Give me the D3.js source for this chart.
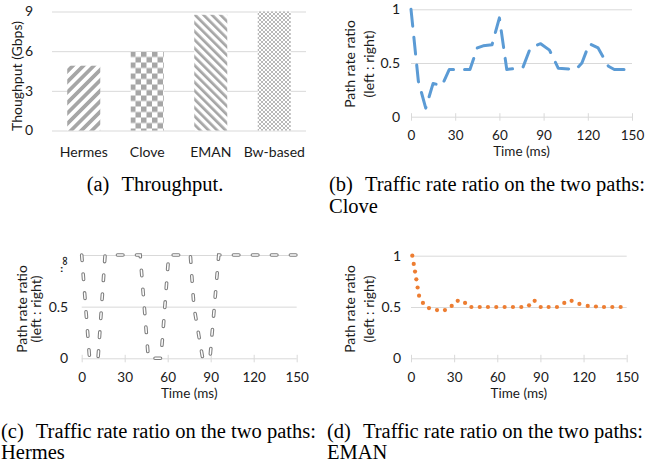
<!DOCTYPE html>
<html>
<head>
<meta charset="utf-8">
<script src="https://cdn.jsdelivr.net/npm/d3@7"></script>
<style>
  body { margin: 0; background: #fff; }
  text { font-family: Lato, "Open Sans", sans-serif; fill: #1a1a1a; }
  text.cap { font-family: "Liberation Serif", "Times New Roman", serif; fill: #000; font-size: 20.5px; }
</style>
</head>
<body>
<script>
// (a) throughput bars
const categories = ['Hermes', 'Clove', 'EMAN', 'Bw-based'];
const throughput = [4.9, 5.95, 8.75, 9.0];
const throughputTicks = [0, 3, 6, 9];

// shared ticks for the ratio panels
const timeTicks = [0, 30, 60, 90, 120, 150];
const ratioTicks = [0, 0.5, 1];
const ratioLabels = ['0', '0.5', '1'];
const hermesLabels = ['0', '0.5', ''];

// (b) Clove
const cloveTime = [0, 5, 10, 15, 21, 26, 40, 45, 49, 55, 60, 65, 72, 76, 81, 88, 94, 100, 112, 116, 121, 127, 134, 138, 145, 150];
const cloveRatio = [1.0, 0.33, 0.08, 0.31, 0.29, 0.44, 0.44, 0.64, 0.66, 0.67, 0.92, 0.44, 0.45, 0.46, 0.64, 0.68, 0.62, 0.45, 0.44, 0.5, 0.68, 0.64, 0.47, 0.44, 0.44, 0.5];

// (c) Hermes (top line = infinity)
const hermesTime = [0, 5.5, 11.4, 16.3, 40.8, 46.5, 55.3, 60.7, 75.8, 78.3, 84.4, 89.5, 95.6, 150];
const hermesRatio = [1, 0, 0, 1, 1, 0, 0, 1, 1, 0.5, 0, 0, 1, 1];

// (d) EMAN
const emanTime = [0.9, 1.9, 2.8, 3.7, 4.6, 5.6, 8.3, 12.5, 18.1, 23.6, 28.3, 32.5, 37.6, 42, 47.8, 53.5, 59.3, 65.1, 70.9, 76.7, 82.1, 86, 90.2, 95.7, 101.5, 106.6, 111.7, 117.1, 122.9, 128.6, 134.2, 140, 145.8];
const emanRatio = [1.0, 0.92, 0.845, 0.77, 0.69, 0.61, 0.54, 0.49, 0.47, 0.47, 0.51, 0.56, 0.54, 0.5, 0.5, 0.5, 0.5, 0.5, 0.5, 0.5, 0.516, 0.56, 0.5, 0.5, 0.5, 0.54, 0.56, 0.53, 0.51, 0.505, 0.5, 0.5, 0.5];

const gridColor = '#d9d9d9';
const grey = '#a6a6a6';

const svg = d3.select('body').append('svg')
  .attr('width', 652)
  .attr('height', 468);

const defs = svg.append('defs');

// diagonal stripes
function stripes(id, size, thick, angle) {
  const p = defs.append('pattern')
    .attr('id', id)
    .attr('patternUnits', 'userSpaceOnUse')
    .attr('width', size)
    .attr('height', size)
    .attr('patternTransform', `rotate(${angle})`);
  p.append('rect').attr('width', size).attr('height', size).attr('fill', '#fff');
  p.append('rect').attr('width', thick).attr('height', size).attr('fill', grey);
}
stripes('hermesFill', 7.4, 3.7, 45);
stripes('emanFill', 6, 2.7, -45);

// checkerboard
const ck = defs.append('pattern')
  .attr('id', 'cloveFill')
  .attr('patternUnits', 'userSpaceOnUse')
  .attr('x', 130).attr('y', 51.5)
  .attr('width', 11).attr('height', 11);
ck.append('rect').attr('width', 11).attr('height', 11).attr('fill', '#fff');
ck.append('rect').attr('width', 5.5).attr('height', 5.5).attr('fill', grey);
ck.append('rect').attr('x', 5.5).attr('y', 5.5).attr('width', 5.5).attr('height', 5.5).attr('fill', grey);

// fine cross hatch
const ch = defs.append('pattern')
  .attr('id', 'bwFill')
  .attr('patternUnits', 'userSpaceOnUse')
  .attr('width', 4).attr('height', 4);
ch.append('rect').attr('width', 4).attr('height', 4).attr('fill', '#fff');
ch.append('path').attr('d', 'M0,0L4,4M4,0L0,4').attr('stroke', '#b0b0b0').attr('stroke-width', 0.9);

const barFills = ['url(#hermesFill)', 'url(#cloveFill)', 'url(#emanFill)', 'url(#bwFill)'];

// ---------- (a) ----------
const xa = d3.scaleBand().domain(categories).range([52, 306]).paddingInner(0.48).paddingOuter(0.24);
const ya = d3.scaleLinear().domain([0, 9]).range([130.5, 11.5]);

svg.append('g')
  .attr('transform', 'translate(52,0)')
  .call(d3.axisLeft(ya).tickValues(throughputTicks).tickSize(-254).tickPadding(19))
  .attr('font-size', 14)
  .call(a => a.select('.domain').remove())
  .call(a => a.selectAll('line').attr('stroke', gridColor));

svg.append('g')
  .selectAll('rect')
  .data(throughput)
  .join('rect')
  .attr('x', (d, i) => xa(categories[i]))
  .attr('y', d => ya(d))
  .attr('width', xa.bandwidth())
  .attr('height', d => ya(0) - ya(d))
  .attr('fill', (d, i) => barFills[i]);

svg.append('g')
  .attr('transform', `translate(0,${ya(0)})`)
  .call(d3.axisBottom(xa).tickSize(0).tickPadding(16.5))
  .attr('font-size', 14)
  .call(a => a.select('.domain').remove());

svg.append('text')
  .attr('transform', 'translate(22,76) rotate(-90)')
  .attr('text-anchor', 'middle')
  .attr('font-size', 14)
  .text('Thoughput (Gbps)');

// ---------- ratio panels ----------
function ratioPanel(o) {
  const x = d3.scaleLinear().domain([0, 150]).range([o.left, o.right]);
  const y = d3.scaleLinear().domain([0, 1]).range([o.bottom, o.top]);

  svg.append('g')
    .attr('transform', `translate(${o.left},0)`)
    .call(d3.axisLeft(y).tickValues(ratioTicks).tickSize(-(o.right - o.left)).tickPadding(o.pad)
      .tickFormat((d, i) => o.labels[i]))
    .attr('font-size', 14)
    .call(a => a.select('.domain').remove())
    .call(a => a.selectAll('line').attr('stroke', gridColor));

  svg.append('g')
    .attr('transform', `translate(0,${o.bottom})`)
    .call(d3.axisBottom(x).tickValues(timeTicks).tickSize(4).tickPadding(9.8))
    .attr('font-size', 13.5)
    .call(a => a.select('.domain').remove())
    .call(a => a.selectAll('line').attr('stroke', gridColor).attr('y1', -3.5));

  svg.append('text')
    .attr('x', (o.left + o.right) / 2)
    .attr('y', o.bottom + 39.5)
    .attr('text-anchor', 'middle')
    .attr('font-size', 13.5)
    .text('Time (ms)');

  const cy = o.titleY;
  svg.append('text')
    .attr('transform', `translate(${o.left - o.t1},${cy}) rotate(-90)`)
    .attr('text-anchor', 'middle')
    .attr('font-size', 14)
    .text('Path rate ratio');
  svg.append('text')
    .attr('transform', `translate(${o.left - o.t2},${cy}) rotate(-90)`)
    .attr('text-anchor', 'middle')
    .attr('font-size', 14)
    .text('(left : right)');

  return { x, y };
}

const line = (x, y) => d3.line().x(d => x(d[0])).y(d => y(d[1]));

// (b) Clove
const pb = ratioPanel({ left: 411, right: 632, top: 9.3, bottom: 116.7, pad: 11, labels: ratioLabels, titleY: 64, t1: 56, t2: 37.5 });
svg.append('path')
  .datum(d3.zip(cloveTime, cloveRatio))
  .attr('d', line(pb.x, pb.y))
  .attr('fill', 'none')
  .attr('stroke', '#5b9bd5')
  .attr('stroke-width', 3)
  .attr('stroke-linecap', 'round')
  .attr('stroke-linejoin', 'round')
  .attr('stroke-dasharray', '17 11');

// (c) Hermes
const pc = ratioPanel({ left: 81.7, right: 296.7, top: 255, bottom: 358.3, pad: 13.5, labels: hermesLabels, titleY: 309, t1: 55, t2: 40.5 });
svg.append('text')
  .attr('transform', `translate(61,${pc.y(1) + 1}) rotate(90)`)
  .attr('font-size', 13)
  .text('∞‥');
const hermesPts = d3.zip(hermesTime, hermesRatio);
[['#7f7f7f', 3.6], ['#fff', 1.5]].forEach(([c, w]) => {
  svg.append('path')
    .datum(hermesPts)
    .attr('d', line(pc.x, pc.y))
    .attr('fill', 'none')
    .attr('stroke', c)
    .attr('stroke-width', w)
    .attr('stroke-linecap', 'round')
    .attr('stroke-dasharray', '5.5 13.5');
});

// (d) EMAN
const pd = ratioPanel({ left: 411, right: 626.7, top: 255.7, bottom: 358.3, pad: 10, labels: ratioLabels, titleY: 309, t1: 56, t2: 37.5 });
svg.append('g')
  .selectAll('circle')
  .data(d3.zip(emanTime, emanRatio))
  .join('circle')
  .attr('cx', d => pd.x(d[0]))
  .attr('cy', d => pd.y(d[1]))
  .attr('r', 2.1)
  .attr('fill', '#ed7d31');

// captions
function caption(x, y, label, first, second) {
  const t = svg.append('text').attr('class', 'cap').attr('x', x).attr('y', y);
  t.append('tspan').text(label);
  t.append('tspan').attr('dx', 12).text(first);
  if (second) {
    svg.append('text').attr('class', 'cap').attr('x', x).attr('y', y + 21.5).text(second);
  }
}
caption(86.7, 191, '(a)', 'Throughput.');
caption(329, 191, '(b)', 'Traffic rate ratio on the two paths:', 'Clove');
caption(1, 437.5, '(c)', 'Traffic rate ratio on the two paths:', 'Hermes');
caption(327, 437.5, '(d)', 'Traffic rate ratio on the two paths:', 'EMAN');
</script>
</body>
</html>
